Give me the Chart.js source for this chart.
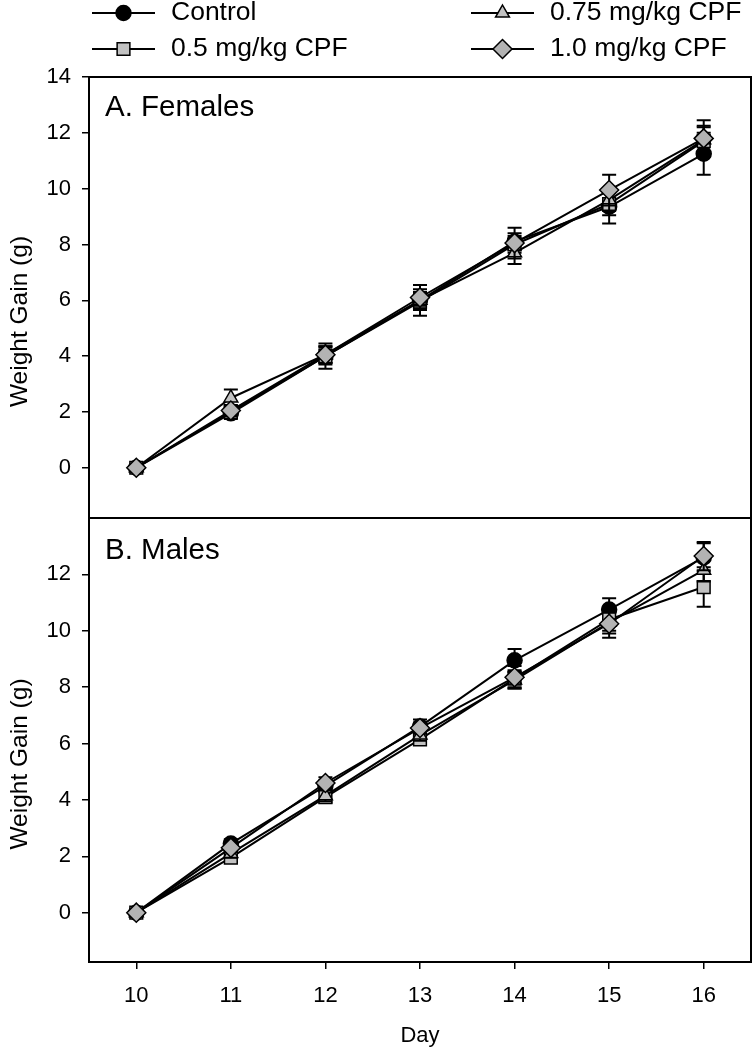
<!DOCTYPE html>
<html>
<head>
<meta charset="utf-8">
<script src="https://cdn.jsdelivr.net/npm/chart.js@4.4.0/dist/chart.umd.min.js"></script>
<style>
  body { margin: 0; background: #fff; }
  canvas { display: block; }
</style>
</head>
<body>
<canvas id="growthChart" width="756" height="1050"></canvas>
<script>
// days of the study (x axis)
var days = [10, 11, 12, 13, 14, 15, 16];
var groupNames = ["Control", "0.5 mg/kg CPF", "0.75 mg/kg CPF", "1.0 mg/kg CPF"];
var panelNames = ["A. Females", "B. Males"];
var yTitle = "Weight Gain (g)";

// A. Females - mean weight gain (g) and SEM
var femControl = [0, 1.95, 4.0, 6.0, 8.1, 9.35, 11.25];
var femCpf05   = [0, 2.0, 4.0, 5.95, 8.0, 9.45, 11.7];
var femCpf075  = [0, 2.5, 4.05, 6.0, 7.7, 9.6, 11.75];
var femCpf10   = [0, 2.05, 4.05, 6.1, 8.05, 9.95, 11.8];
var femControlErr = [0, 0.2, 0.45, 0.55, 0.3, 0.6, 0.75];
var femCpf05Err   = [0, 0.2, 0.3, 0.3, 0.3, 0.4, 0.5];
var femCpf075Err  = [0, 0.3, 0.3, 0.3, 0.4, 0.4, 0.5];
var femCpf10Err   = [0, 0.2, 0.3, 0.3, 0.55, 0.55, 0.65];

// B. Males - mean weight gain (g) and SEM
var maleControl = [0, 2.45, 4.5, 6.6, 8.95, 10.75, 12.6];
var maleCpf05   = [0, 1.95, 4.1, 6.15, 8.3, 10.4, 11.55];
var maleCpf075  = [0, 2.1, 4.15, 6.3, 8.25, 10.3, 12.15];
var maleCpf10   = [0, 2.3, 4.6, 6.55, 8.35, 10.25, 12.65];
var maleControlErr = [0, 0.15, 0.2, 0.25, 0.4, 0.4, 0.5];
var maleCpf05Err   = [0, 0.15, 0.2, 0.2, 0.3, 0.4, 0.7];
var maleCpf075Err  = [0, 0.15, 0.2, 0.2, 0.3, 0.4, 0.4];
var maleCpf10Err   = [0, 0.15, 0.2, 0.2, 0.4, 0.5, 0.5];

// tick labels
var femTicks = [0, 2, 4, 6, 8, 10, 12, 14];
var maleTicks = [0, 2, 4, 6, 8, 10, 12];

// marker look per group
var groupStyles = [
  { pointStyle: "circle",   radius: 7.5, fill: "#000000", order: 4 },
  { pointStyle: "rect",     radius: 9,   fill: "#c2c2c2", order: 3 },
  { pointStyle: "triangle", radius: 8,   fill: "#c2c2c2", order: 2 },
  { pointStyle: "rectRot",  radius: 9.5, fill: "#b3b3b3", order: 1 }
];

function toPoints(values) {
  return values.map(function(v, i) { return { x: days[i], y: v }; });
}

function makeDataset(group, values, errors, axis) {
  var st = groupStyles[group];
  return {
    label: groupNames[group],
    data: toPoints(values),
    errors: errors,
    yAxisID: axis,
    order: st.order,
    borderColor: "#000",
    borderWidth: 2,
    pointStyle: st.pointStyle,
    pointRadius: st.radius,
    pointBackgroundColor: st.fill,
    pointBorderColor: "#000",
    pointBorderWidth: 1.5,
    tension: 0
  };
}

var F = "'Liberation Sans', Arial, sans-serif";

// SEM bars, drawn just before each dataset
var errorBars = {
  id: "errorBars",
  beforeDatasetDraw: function(chart, args) {
    var ds = chart.data.datasets[args.index];
    var yScale = chart.scales[ds.yAxisID];
    var ctx = chart.ctx;
    ctx.save();
    ctx.strokeStyle = "#000";
    ctx.lineWidth = 2;
    args.meta.data.forEach(function(pt, i) {
      var e = ds.errors[i];
      if (!e) return;
      var v = ds.data[i].y;
      var top = yScale.getPixelForValue(v + e);
      var bot = yScale.getPixelForValue(v - e);
      ctx.beginPath();
      ctx.moveTo(pt.x, top); ctx.lineTo(pt.x, bot);
      ctx.moveTo(pt.x - 7, top); ctx.lineTo(pt.x + 7, top);
      ctx.moveTo(pt.x - 7, bot); ctx.lineTo(pt.x + 7, bot);
      ctx.stroke();
    });
    ctx.restore();
  }
};

// panel boxes, panel names, y titles and the legend on top
var panelDecor = {
  id: "panelDecor",
  afterDraw: function(chart) {
    var ctx = chart.ctx;
    var area = chart.chartArea;
    var panels = [chart.scales.yF, chart.scales.yM];
    ctx.save();
    ctx.strokeStyle = "#000";
    ctx.lineWidth = 2;
    panels.forEach(function(s, i) {
      ctx.strokeRect(area.left, s.top, area.right - area.left, s.bottom - s.top);
      ctx.fillStyle = "#000";
      ctx.font = "29.5px " + F;
      ctx.textBaseline = "middle";
      ctx.textAlign = "left";
      ctx.fillText(panelNames[i], area.left + 16, s.top + (i === 0 ? 31 : 33));

      // y title, sits a bit below the middle of its panel as in the original
      ctx.save();
      ctx.translate(20, (s.top + s.bottom) / 2 + 24);
      ctx.rotate(-Math.PI / 2);
      ctx.textAlign = "center";
      ctx.font = "24.5px " + F;
      ctx.fillText(yTitle, 0, 0);
      ctx.restore();
    });

    // legend: two columns, two rows
    var colX = [92, 471];
    var rowY = [13, 49];
    var slots = [[0, 0], [0, 1], [1, 0], [1, 1]];
    for (var g = 0; g < 4; g++) {
      var cx = colX[slots[g][0]];
      var cy = rowY[slots[g][1]];
      var st = groupStyles[g];
      ctx.beginPath();
      ctx.moveTo(cx, cy); ctx.lineTo(cx + 63, cy);
      ctx.lineWidth = 2;
      ctx.stroke();
      ctx.fillStyle = st.fill;
      ctx.lineWidth = 1.5;
      Chart.helpers.drawPoint(ctx, { pointStyle: st.pointStyle, radius: st.radius, rotation: 0, borderWidth: 1.5 }, cx + 31.5, cy);
      ctx.fillStyle = "#000";
      ctx.font = "26.5px " + F;
      ctx.textAlign = "left";
      ctx.textBaseline = "middle";
      ctx.fillText(groupNames[g], cx + 79, cy);
    }
    ctx.restore();
  }
};

function yAxis(min, ticks, weight, stackWeight) {
  return {
    type: "linear",
    position: "left",
    stack: "panels",
    stackWeight: stackWeight,
    weight: weight,
    min: min,
    max: 14,
    afterBuildTicks: function(s) { s.ticks = ticks.map(function(v) { return { value: v }; }); },
    afterFit: function(s) { s.width = 89; },
    border: { display: false },
    grid: { drawOnChartArea: false, drawTicks: true, tickLength: 7, color: "#000", lineWidth: 1.5 },
    ticks: { color: "#000", font: { family: F, size: 22 }, padding: 11 },
    title: { display: false }
  };
}

var ctx = document.getElementById("growthChart").getContext("2d");
var chart = new Chart(ctx, {
  type: "line",
  data: {
    datasets: [
      makeDataset(0, femControl, femControlErr, "yF"),
      makeDataset(1, femCpf05, femCpf05Err, "yF"),
      makeDataset(2, femCpf075, femCpf075Err, "yF"),
      makeDataset(3, femCpf10, femCpf10Err, "yF"),
      makeDataset(0, maleControl, maleControlErr, "yM"),
      makeDataset(1, maleCpf05, maleCpf05Err, "yM"),
      makeDataset(2, maleCpf075, maleCpf075Err, "yM"),
      makeDataset(3, maleCpf10, maleCpf10Err, "yM")
    ]
  },
  options: {
    responsive: false,
    animation: false,
    layout: { autoPadding: false, padding: { top: 77, right: 5, bottom: 0, left: 0 } },
    plugins: { legend: { display: false }, tooltip: { enabled: false } },
    scales: {
      x: {
        type: "linear",
        min: 9.5,
        max: 16.5,
        afterBuildTicks: function(s) { s.ticks = days.map(function(v) { return { value: v }; }); },
        afterFit: function(s) { s.height = 88; },
        border: { display: false },
        grid: { drawOnChartArea: false, drawTicks: true, tickLength: 7, color: "#000", lineWidth: 1.5 },
        ticks: { color: "#000", font: { family: F, size: 22 }, padding: 14, maxRotation: 0 },
        title: { display: true, text: "Day", color: "#000", font: { family: F, size: 22 }, padding: { top: 0, bottom: 1 } }
      },
      yM: yAxis(-1.75, maleTicks, 0, 444),
      yF: yAxis(-1.8, femTicks, 1, 441)
    }
  },
  plugins: [errorBars, panelDecor]
});
</script>
</body>
</html>
